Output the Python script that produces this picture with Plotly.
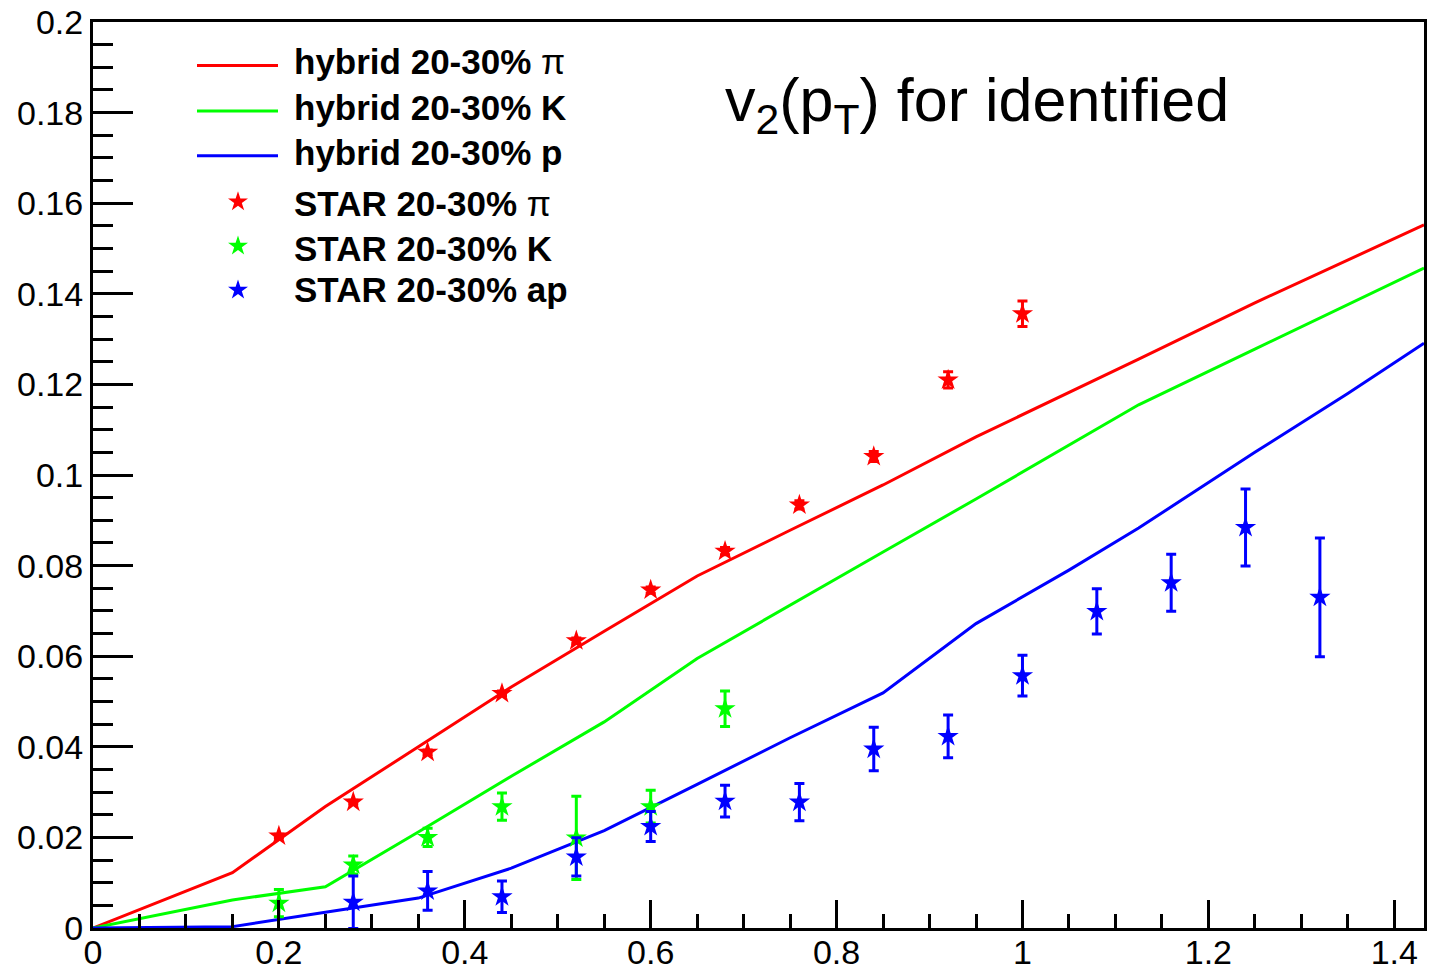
import plotly.graph_objects as go

# ---- hybrid model v2(pT), 20-30% centrality ----
pt_model = [0.0, 0.15, 0.25, 0.35, 0.45, 0.55, 0.65, 0.75, 0.85, 0.95, 1.05, 1.125, 1.25, 1.35, 1.432]
hyb_pi = [0.0, 0.0122, 0.0268, 0.0400, 0.0532, 0.0655, 0.0777, 0.0878, 0.0978, 0.1084, 0.1182, 0.1256, 0.1380, 0.1475, 0.1552]
hyb_k = [0.0, 0.0062, 0.0091, 0.0212, 0.0335, 0.0455, 0.0595, 0.0713, 0.0830, 0.0947, 0.1066, 0.1155, 0.1278, 0.1376, 0.1457]
hyb_p = [0.0, 0.0003, 0.0035, 0.0066, 0.0132, 0.0215, 0.0317, 0.0420, 0.0519, 0.0672, 0.0790, 0.0883, 0.1050, 0.1180, 0.1291]

# ---- STAR measurements, 20-30% ----
pi_pt = [0.20, 0.28, 0.36, 0.44, 0.52, 0.60, 0.68, 0.76, 0.84, 0.92, 1.00]
pi_v2 = [0.0203, 0.0278, 0.0388, 0.0518, 0.0634, 0.0746, 0.0832, 0.0934, 0.1041, 0.1210, 0.1356]
pi_err = [0.0004, 0.0004, 0.0005, 0.0005, 0.0006, 0.0007, 0.0008, 0.0009, 0.0011, 0.0018, 0.0028]

k_pt = [0.20, 0.28, 0.36, 0.44, 0.52, 0.60, 0.68]
k_v2 = [0.0055, 0.0139, 0.0200, 0.0268, 0.0199, 0.0268, 0.0484]
k_err = [0.0030, 0.0020, 0.0020, 0.0030, 0.0092, 0.0036, 0.0039]

ap_pt = [0.28, 0.36, 0.44, 0.52, 0.60, 0.68, 0.76, 0.84, 0.92, 1.00, 1.08, 1.16, 1.24, 1.32]
ap_v2 = [0.0057, 0.0082, 0.0069, 0.0157, 0.0224, 0.0280, 0.0278, 0.0395, 0.0423, 0.0557, 0.0699, 0.0762, 0.0884, 0.0730]
ap_err = [0.0058, 0.0043, 0.0035, 0.0042, 0.0033, 0.0035, 0.0041, 0.0048, 0.0047, 0.0045, 0.0050, 0.0063, 0.0085, 0.0131]

RED, GREEN, BLUE = "#ff0000", "#00ff00", "#0000ff"
FONT = "Liberation Sans, Arial, sans-serif"

model_labels = ["<b>hybrid 20-30%</b> π", "<b>hybrid 20-30% K</b>", "<b>hybrid 20-30% p</b>"]
data_labels = ["<b>STAR 20-30%</b> π", "<b>STAR 20-30% K</b>", "<b>STAR 20-30% ap</b>"]

W, H = 1429, 970
ML, MR, MT, MB = 93, 5, 22, 42

fig = go.Figure()

for yv, col in [(hyb_pi, RED), (hyb_k, GREEN), (hyb_p, BLUE)]:
    fig.add_trace(go.Scatter(x=pt_model, y=yv, mode="lines",
                             line=dict(color=col, width=3), showlegend=False))

for xs, ys, es, col in [(k_pt, k_v2, k_err, GREEN), (ap_pt, ap_v2, ap_err, BLUE), (pi_pt, pi_v2, pi_err, RED)]:
    fig.add_trace(go.Scatter(x=xs, y=ys, mode="markers",
                             marker=dict(symbol="star", size=16, color=col, line=dict(width=0)),
                             error_y=dict(type="data", array=es, visible=True, color=col,
                                          thickness=3, width=5),
                             showlegend=False))

# legend keys, placed on a pixel-coordinate overlay axis pair
leg_line_y = [65.5, 111, 155.7]
leg_star_y = [201.7, 246, 290]
leg_text_y = [61, 107, 152, 203, 248, 289]
fig.add_trace(go.Scatter(x=[238, 238, 238], y=leg_star_y, mode="markers",
                         marker=dict(symbol="star", size=15, color=[RED, GREEN, BLUE], line=dict(width=0)),
                         xaxis="x2", yaxis="y2", showlegend=False, hoverinfo="skip"))

shapes = []
for yy, col in zip(leg_line_y, [RED, GREEN, BLUE]):
    shapes.append(dict(type="line", xref="x2", yref="y2", x0=197, x1=278, y0=yy, y1=yy,
                       line=dict(color=col, width=3)))

annotations = []
for yy, txt in zip(leg_text_y, model_labels + data_labels):
    annotations.append(dict(xref="x2", yref="y2", x=292, y=yy, text=txt, showarrow=False,
                            xanchor="left", yanchor="middle",
                            font=dict(family=FONT, size=35, color="black")))

annotations.append(dict(xref="x2", yref="y2", x=723, y=104,
                        text="v<sub>2</sub>(p<sub>T</sub>) for identified", showarrow=False,
                        xanchor="left", yanchor="middle",
                        font=dict(family=FONT, size=61, color="black")))

axis_common = dict(ticks="inside", tickwidth=3, tickcolor="black", showgrid=False, zeroline=False,
                   showline=True, linecolor="black", linewidth=3, mirror=True, automargin=False)

fig.update_layout(
    width=W, height=H,
    margin=dict(l=ML, r=MR, t=MT, b=MB, pad=0, autoexpand=False),
    paper_bgcolor="white", plot_bgcolor="white",
    shapes=shapes, annotations=annotations,
    xaxis=dict(range=[0, 1.432], dtick=0.2, tick0=0, ticklen=28,
               minor=dict(dtick=0.05, ticks="inside", ticklen=14, tickwidth=3, tickcolor="black", showgrid=False),
               tickfont=dict(family=FONT, size=34, color="black"), ticklabelstandoff=-8, **axis_common),
    yaxis=dict(range=[0, 0.2], dtick=0.02, tick0=0, ticklen=40,
               minor=dict(dtick=0.005, ticks="inside", ticklen=20, tickwidth=3, tickcolor="black", showgrid=False),
               tickfont=dict(family=FONT, size=34, color="black"), ticklabelstandoff=0, **axis_common),
    xaxis2=dict(overlaying="x", range=[ML, W - MR], visible=False, fixedrange=True),
    yaxis2=dict(overlaying="y", range=[H - MB, MT], visible=False, fixedrange=True),
)

fig.write_html("out.html")
